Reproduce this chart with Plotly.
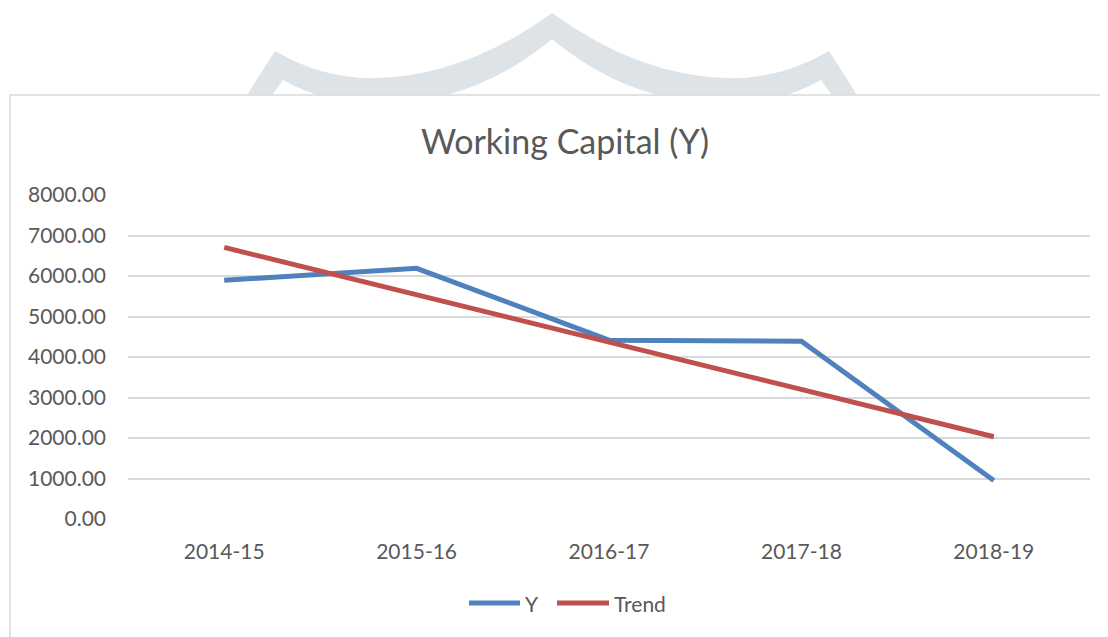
import plotly.graph_objects as go

# page has an 8px body margin; figure is placed at (8, 8)
OFF = 8
W, H = 1108 - OFF, 637 - OFF

categories = ["2014-15", "2015-16", "2016-17", "2017-18", "2018-19"]
y_values = [5895, 6190, 4415, 4390, 950]
trend_values = [6706, 5537, 4368, 3199, 2030]
y_ticks = [0, 1000, 2000, 3000, 4000, 5000, 6000, 7000, 8000]

BLUE = "#4f81bd"
RED = "#c0504d"
TEXT = "#595959"
GRID = "#d9d9d9"
FONT = "Lato, 'Open Sans', sans-serif"


def px(x):
    return (x - OFF) / W


def py(y):
    return 1 - (y - OFF) / H


def pt(x, y):
    return f"{px(x):.5f},{py(y):.5f}"


fig = go.Figure()
fig.add_trace(go.Scatter(x=categories, y=y_values, mode="lines", name="Y",
                         line=dict(color=BLUE, width=5), showlegend=False))
fig.add_trace(go.Scatter(x=categories, y=trend_values, mode="lines", name="Trend",
                         line=dict(color=RED, width=5), showlegend=False))

# watermark emblem (partially hidden behind the chart box)
wm = (f"M {pt(247,95)} L {pt(275,51)} Q {pt(325,80)} {pt(377,78)} "
      f"Q {pt(465,76)} {pt(552,13)} Q {pt(639,76)} {pt(727,78)} "
      f"Q {pt(779,80)} {pt(829,51)} L {pt(857,95)} L {pt(832,95)} "
      f"L {pt(821,80)} Q {pt(779,104)} {pt(727,104)} Q {pt(630,104)} {pt(552,39)} "
      f"Q {pt(474,104)} {pt(377,104)} Q {pt(325,104)} {pt(283,80)} L {pt(272,95)} Z")

shapes = [
    dict(type="path", path=wm, xref="paper", yref="paper", fillcolor="#dde3e6",
         line=dict(width=0), layer="below"),
    dict(type="rect", xref="paper", yref="paper", x0=px(10), x1=px(1115),
         y0=py(645), y1=py(95), fillcolor="white",
         line=dict(color=GRID, width=1.5), layer="below"),
    # legend samples
    dict(type="line", xref="paper", yref="paper", x0=px(469), x1=px(520),
         y0=py(603), y1=py(603), line=dict(color=BLUE, width=5)),
    dict(type="line", xref="paper", yref="paper", x0=px(557), x1=px(609),
         y0=py(603), y1=py(603), line=dict(color=RED, width=5)),
]

annotations = [
    dict(text="Y", x=px(523), y=py(603), xref="paper", yref="paper",
         xanchor="left", yanchor="middle", showarrow=False,
         font=dict(family=FONT, size=21, color=TEXT)),
    dict(text="Trend", x=px(612), y=py(603), xref="paper", yref="paper",
         xanchor="left", yanchor="middle", showarrow=False,
         font=dict(family=FONT, size=21, color=TEXT)),
]

fig.update_layout(
    width=W, height=H,
    margin=dict(l=0, r=0, t=0, b=0),
    paper_bgcolor="white",
    plot_bgcolor="rgba(0,0,0,0)",
    showlegend=False,
    title=dict(text="Working Capital (Y)", x=px(565), y=py(142),
               xref="paper", yref="paper", xanchor="center", yanchor="middle",
               font=dict(family=FONT, size=34, color=TEXT)),
    shapes=shapes,
    annotations=annotations,
    xaxis=dict(domain=[px(128), px(1090)], type="category", range=[-0.5, 4.5],
               showgrid=False, zeroline=False, showline=False, ticks="",
               tickfont=dict(family=FONT, size=21, color=TEXT),
               ticklabelstandoff=18, automargin=False, fixedrange=True),
    yaxis=dict(domain=[py(519), py(195)], range=[0, 8000], tickvals=y_ticks,
               tickformat=".2f", showgrid=True, gridcolor=GRID, gridwidth=1.5,
               zeroline=False, showline=False, ticks="",
               tickfont=dict(family=FONT, size=21, color=TEXT),
               ticklabelstandoff=21, automargin=False, fixedrange=True),
)

fig.write_html("out.html")
